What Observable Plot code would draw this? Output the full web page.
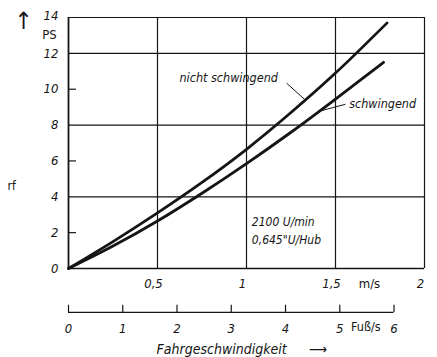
<!DOCTYPE html>
<html>
<head>
<meta charset="utf-8">
<script src="https://cdn.jsdelivr.net/npm/d3@7"></script>
<script src="https://cdn.jsdelivr.net/npm/@observablehq/plot@0.6"></script>
<style>
  html, body { margin: 0; padding: 0; background: #fff; }
  #chart svg { display: block; }
</style>
</head>
<body>
<div id="chart"></div>
<script>
// Data
const xNicht = [0, 0.25, 0.5, 0.75, 1.0, 1.25, 1.5, 1.79];
const yNicht = [0, 1.5, 3.1, 4.8, 6.65, 8.7, 10.9, 13.7];
const xSchw  = [0, 0.25, 0.5, 0.75, 1.0, 1.25, 1.5, 1.77];
const ySchw  = [0, 1.25, 2.65, 4.2, 5.85, 7.6, 9.45, 11.5];

const seriesNames = ["nicht schwingend", "schwingend"];
const yTicks = [0, 2, 4, 6, 8, 10, 12];
const yTop = 14;
const yGrid = [4, 8, 12];
const yShortTicks = [2, 6, 10];
const xGrid = [0.5, 1, 1.5];
const xTickValues = [0.5, 1, 1.5, 2];
const xTickLabels = ["0,5", "1", "1,5", "2"];
const ftTicks = [0, 1, 2, 3, 4, 5, 6];
const ftLabels = ["0", "1", "2", "3", "4", "5", "6"];
const FT = 0.3048;

const nicht = xNicht.map((x, i) => ({x, y: yNicht[i]}));
const schw = xSchw.map((x, i) => ({x, y: ySchw[i]}));

const ink = "#151515";
const font = "'DejaVu Sans Condensed', 'DejaVu Sans', sans-serif";

const chart = Plot.plot({
  width: 437,
  height: 357,
  marginLeft: 68,
  marginRight: 13,
  marginTop: 17,
  marginBottom: 89,
  style: {fontFamily: font, fontSize: "12px", color: ink, background: "#fff"},
  x: {domain: [0, 2], axis: null},
  y: {domain: [0, 14], axis: null},
  marks: [
    // grid
    Plot.ruleX(xGrid, {stroke: ink, strokeWidth: 1.2}),
    Plot.ruleY(yGrid, {stroke: ink, strokeWidth: 1.2}),
    // frame
    Plot.ruleX([0], {stroke: ink, strokeWidth: 1.8}),
    Plot.ruleX([2], {stroke: ink, strokeWidth: 1.2}),
    Plot.ruleY([0], {stroke: ink, strokeWidth: 1.6}),
    Plot.ruleY([14], {stroke: ink, strokeWidth: 1.2}),
    // short inner ticks on left axis
    Plot.ruleY(yShortTicks, {x1: 0, x2: 0.045, stroke: ink, strokeWidth: 1.2}),
    // y tick labels
    Plot.text(yTicks, {x: 0, y: d => d, text: d => String(d), dx: -10, textAnchor: "end", fontStyle: "italic", fontSize: 13, fill: ink}),
    Plot.text([yTop], {x: 0, y: d => d, text: d => String(d), dx: -10, dy: -2, textAnchor: "end", fontStyle: "italic", fontSize: 13, fill: ink}),
    Plot.text(["PS"], {x: 0, y: 13.05, text: d => d, dx: -19, fontSize: 13, fill: ink}),
    Plot.text(["↑"], {x: 0, y: 14, text: d => d, dx: -45, dy: 4, fontSize: 24, fill: ink}),
    // x tick labels
    Plot.text(xTickValues, {x: d => d, y: 0, text: (d, i) => xTickLabels[i], dy: 15, dx: -4, fontStyle: "italic", fontSize: 13, fill: ink}),
    Plot.text(["m/s"], {x: 1.5, y: 0, text: d => d, dx: 34, dy: 15, fontSize: 13, fill: ink}),
    // curves
    Plot.line(nicht, {x: "x", y: "y", curve: "catmull-rom", stroke: ink, strokeWidth: 2.8}),
    Plot.line(schw, {x: "x", y: "y", curve: "catmull-rom", stroke: ink, strokeWidth: 2.8}),
    // series labels with leader lines
    Plot.text([seriesNames[0]], {x: 0.9, y: 10.6, text: d => d, fontStyle: "italic", fontSize: 12.5, fill: ink}),
    Plot.link([{x1: 1.225, y1: 10.34, x2: 1.33, y2: 9.4}], {x1: "x1", y1: "y1", x2: "x2", y2: "y2", stroke: ink, strokeWidth: 1}),
    Plot.text([seriesNames[1]], {x: 1.765, y: 9.2, text: d => d, fontStyle: "italic", fontSize: 12.5, fill: ink}),
    Plot.link([{x1: 1.556, y1: 9.16, x2: 1.40, y2: 8.75}], {x1: "x1", y1: "y1", x2: "x2", y2: "y2", stroke: ink, strokeWidth: 1}),
    // operating conditions
    Plot.text(["2100 U/min"], {x: 1.03, y: 2.57, text: d => d, textAnchor: "start", fontStyle: "italic", fontSize: 12, fill: ink}),
    Plot.text(["0,645\"U/Hub"], {x: 1.03, y: 1.56, text: d => d, textAnchor: "start", fontStyle: "italic", fontSize: 12, fill: ink}),
    // secondary axis in ft/s
    Plot.ruleY([-2.45], {x1: 0, x2: 6 * FT, stroke: ink, strokeWidth: 1.2}),
    Plot.ruleX(ftTicks, {x: d => d * FT, y1: -2.45, y2: -2.05, stroke: ink, strokeWidth: 1.2}),
    Plot.text(ftTicks, {x: d => d * FT, y: -2.45, text: (d, i) => ftLabels[i], dy: 16, fontStyle: "italic", fontSize: 13, fill: ink}),
    Plot.text(["Fuß/s"], {x: 5.5 * FT, y: -2.45, text: d => d, dy: 15, dx: -1, fontSize: 12.5, fill: ink}),
    Plot.text(["Fahrgeschwindigkeit"], {x: 0.86, y: -2.45, text: d => d, dy: 37, fontStyle: "italic", fontSize: 14, fill: ink}),
    Plot.text(["⟶"], {x: 1.40, y: -2.45, text: d => d, dy: 37, fontSize: 14, fill: ink}),
    // cut-off label fragment at left edge
    Plot.text(["rf"], {x: 0, y: 4.6, text: d => d, dx: -61, textAnchor: "start", fontSize: 12, fill: ink})
  ]
});
document.getElementById("chart").appendChild(chart);
</script>
</body>
</html>
